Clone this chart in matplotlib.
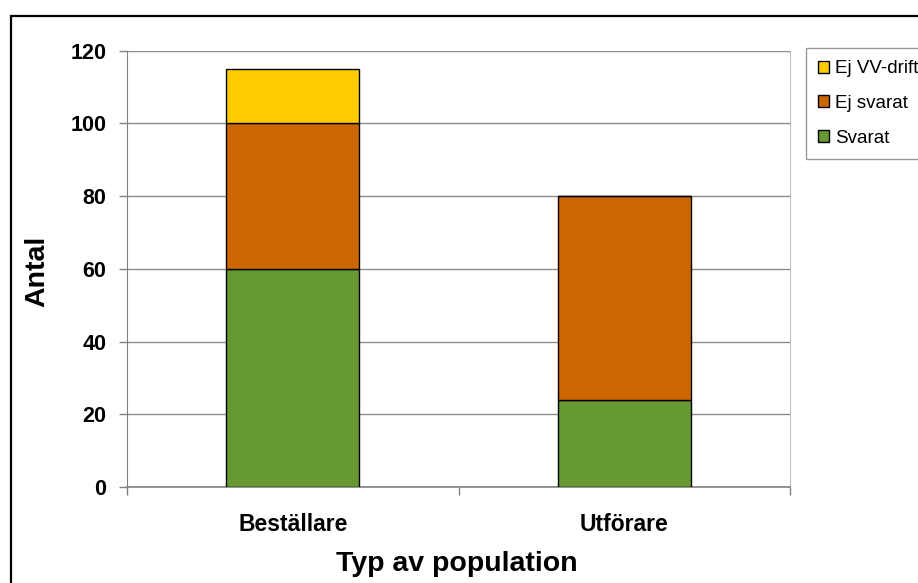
import matplotlib
matplotlib.use("Agg")
import matplotlib.pyplot as plt
from matplotlib.patches import Patch, Rectangle

categories = ["Beställare", "Utförare"]
svarat = [60, 24]
ej_svarat = [40, 56]
ej_vv_drift = [15, 0]
series_names = ["Svarat", "Ej svarat", "Ej VV-drift"]
colors = ["#669933", "#CC6600", "#FFCC00"]
yticks = [0, 20, 40, 60, 80, 100, 120]

W, H = 918, 583
fig = plt.figure(figsize=(W / 100, H / 100), dpi=100)
plt.rcParams["font.family"] = ["Liberation Sans", "DejaVu Sans"]

# outer chart border (partly outside the image)
fig.patches.append(Rectangle((11 / W, -0.2), 2.0, 1.2 - 16 / H, transform=fig.transFigure,
                             fill=False, edgecolor="black", lw=1.6, zorder=0))

left, right, top, bottom = 127, 790, 50.5, 487
ax = fig.add_axes([left / W, 1 - bottom / H, (right - left) / W, (bottom - top) / H])

x = list(range(len(categories)))
width = 0.4
bottoms = [0] * len(categories)
data = [svarat, ej_svarat, ej_vv_drift]
for vals, col, name in zip(data, colors, series_names):
    ax.bar(x, vals, width, bottom=bottoms, color=col, edgecolor="black", linewidth=1.0,
           label=name, zorder=3)
    bottoms = [b + v for b, v in zip(bottoms, vals)]

ax.set_xlim(-0.5, len(categories) - 0.5)
ax.set_ylim(0, 120)
ax.set_yticks(yticks)
ax.yaxis.grid(True, color="#8c8c8c", linewidth=1.0, zorder=0)
ax.set_axisbelow(True)

ax.set_xticks(x)
ax.set_xticklabels(categories, fontsize=16.5, fontweight="bold")
ax.tick_params(axis="x", length=0, pad=19)
ax.set_xticks([-0.5, 0.5, 1.5], minor=True)
ax.tick_params(axis="x", which="minor", length=6, direction="out", color="#808080", width=1)
ax.tick_params(axis="y", length=6, direction="out", color="#808080", width=1, pad=9,
               labelsize=15.5)
for lbl in ax.get_yticklabels():
    lbl.set_fontweight("bold")

ax.spines["top"].set_visible(False)
ax.spines["right"].set_color("#c0c0c0")
ax.spines["left"].set_color("#808080")
ax.spines["bottom"].set_color("#808080")
ax.spines["bottom"].set_linewidth(1.2)

fig.text(37 / W, 1 - 271 / H, "Antal", rotation=90, ha="center", va="center",
         fontsize=20.5, fontweight="bold")
fig.text(457 / W, 1 - 564 / H, "Typ av population", ha="center", va="center",
         fontsize=20.5, fontweight="bold")

handles = [Patch(facecolor=c, edgecolor="black", linewidth=1.0) for c in colors][::-1]
labels = series_names[::-1]
leg = fig.legend(handles, labels, loc="upper left", bbox_to_anchor=(806 / W, 1 - 48 / H),
                 fontsize=13.5, frameon=True, fancybox=False, edgecolor="#808080",
                 handlelength=0.6, handleheight=0.6, handletextpad=0.3,
                 labelspacing=0.95, borderpad=0.65, borderaxespad=0)
leg.get_frame().set_linewidth(1.0)

fig.savefig("out.png", dpi=100)
